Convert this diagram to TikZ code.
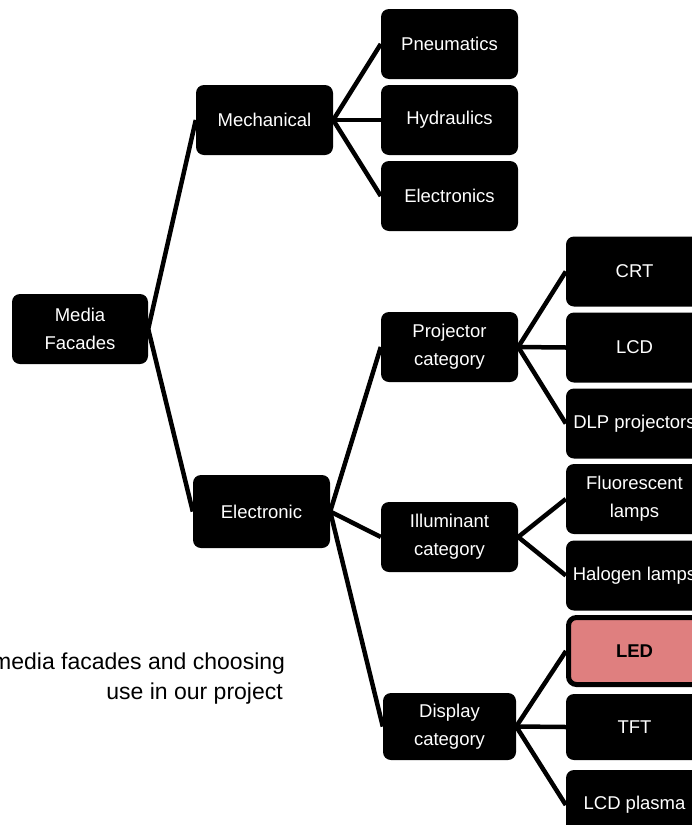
\documentclass[tikz,border=0pt]{standalone}
\usepackage{fontspec}
\setmainfont{Liberation Sans}
\usetikzlibrary{backgrounds}
\definecolor{ledred}{RGB}{223,127,127}
\tikzset{
  box/.style={fill=black, rounded corners=8pt, text=white, align=center,
    minimum width=137pt, minimum height=70pt, inner sep=0pt,
    font=\fontsize{18.5}{28}\selectfont},
  hilite/.style={box, fill=ledred, draw=black, line width=5pt, text=black,
    minimum width=132pt, minimum height=67pt, font=\fontsize{18.5}{28}\selectfont\bfseries},
  link/.style={line width=4.5pt, draw=black},
  note/.style={font=\fontsize{23}{30}\selectfont, text=black, inner sep=0pt}
}
\begin{document}
\begin{tikzpicture}[x=1pt, y=-1pt]
\useasboundingbox (0,0) rectangle (692,825);
\clip (0,0) rectangle (692,825);
% column 0
\node[box, minimum width=136pt] (media) at (80,329) {Media\\Facades};
% column 1
\node[box] (mech) at (264.5,120) {Mechanical};
\node[box, minimum height=73pt] (elec) at (261.5,511.5) {Electronic};
% column 2
\node[box] (pneu) at (449.5,44) {Pneumatics};
\node[box] (hydr) at (449.5,120) {Hydraulics};
\node[box] (etrs) at (449.5,196) {Electronics};
\node[box] (proj) at (449.5,347) {Projector\\category};
\node[box] (illu) at (449.5,537) {Illuminant\\category};
\node[box, minimum width=133pt, minimum height=67pt] (disp) at (449.5,726.5) {Display\\category};
% column 3
\node[box] (crt) at (634.5,271.5) {CRT};
\node[box] (lcd) at (634.5,347.5) {LCD};
\node[box] (dlp) at (634.5,423.5) {DLP projectors};
\node[box] (fluo) at (634.5,499) {Fluorescent\\lamps};
\node[box] (halo) at (634.5,575.5) {Halogen lamps};
\node[hilite] (led) at (634.5,651) {LED};
\node[box, minimum height=66pt] (tft) at (634.5,727) {TFT};
\node[box] (plas) at (634.5,805) {LCD plasma};
% note text
\node[note, anchor=base west] (n1) at (-8,669) {media facades and choosing};
\node[note, anchor=base east] (n2) at (283,699) {use in our project};
% connectors
\begin{scope}[on background layer]
\draw[link] (media.east) -- (mech.west);
\draw[link] (media.east) -- (elec.west);
\draw[link] (mech.east) -- (pneu.west);
\draw[link] (mech.east) -- (hydr.west);
\draw[link] (mech.east) -- (etrs.west);
\draw[link] (elec.east) -- (proj.west);
\draw[link] (elec.east) -- (illu.west);
\draw[link] (elec.east) -- (disp.west);
\draw[link] (proj.east) -- (crt.west);
\draw[link] (proj.east) -- (lcd.west);
\draw[link] (proj.east) -- (dlp.west);
\draw[link] (illu.east) -- (fluo.west);
\draw[link] (illu.east) -- (halo.west);
\draw[link] (disp.east) -- (led.west);
\draw[link] (disp.east) -- (tft.west);
\draw[link] (disp.east) -- (plas.west);
\end{scope}
\end{tikzpicture}
\end{document}
